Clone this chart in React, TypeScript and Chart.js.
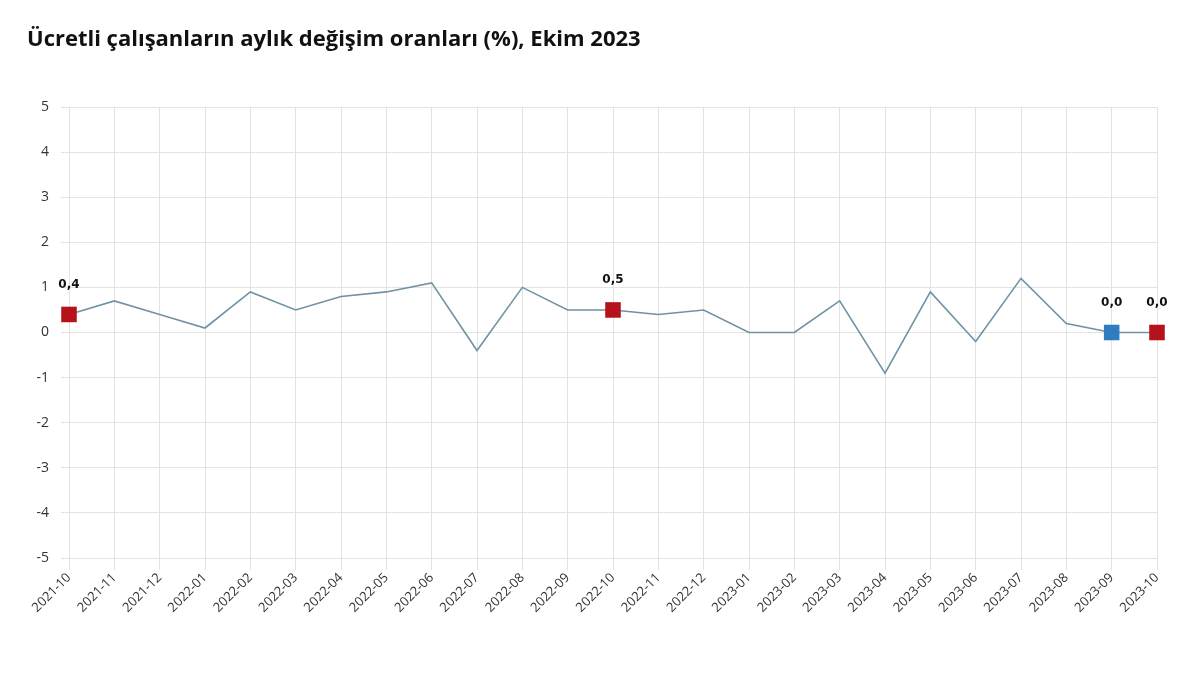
import { useEffect, useRef } from "react";
import { Chart, registerables, Plugin } from "chart.js";

Chart.register(...registerables);

const months = [
  "2021-10", "2021-11", "2021-12", "2022-01", "2022-02", "2022-03", "2022-04",
  "2022-05", "2022-06", "2022-07", "2022-08", "2022-09", "2022-10", "2022-11",
  "2022-12", "2023-01", "2023-02", "2023-03", "2023-04", "2023-05", "2023-06",
  "2023-07", "2023-08", "2023-09", "2023-10",
];

const monthlyChange = [
  0.4, 0.7, 0.4, 0.1, 0.9, 0.5, 0.8, 0.9, 1.1, -0.4, 1.0, 0.5, 0.5, 0.4,
  0.5, 0.0, 0.0, 0.7, -0.9, 0.9, -0.2, 1.2, 0.2, 0.0, 0.0,
];

// highlighted months (same month last years = red, previous month = blue)
const highlighted = ["2021-10", "2022-10", "2023-09", "2023-10"];
const highlightColors = ["#b5121b", "#b5121b", "#2f7dc1", "#b5121b"];

const yTicks = [-5, -4, -3, -2, -1, 0, 1, 2, 3, 4, 5];

const fmt = (v: number) => v.toFixed(1).replace(".", ",");

const valueLabels: Plugin<"line"> = {
  id: "valueLabels",
  afterDatasetsDraw(chart) {
    const { ctx } = chart;
    const meta = chart.getDatasetMeta(0);
    ctx.save();
    ctx.font = "bold 12px 'DejaVu Sans'";
    ctx.fillStyle = "#111";
    ctx.textAlign = "center";
    ctx.textBaseline = "bottom";
    highlighted.forEach((m) => {
      const i = months.indexOf(m);
      const pt = meta.data[i];
      ctx.fillText(fmt(monthlyChange[i]), pt.x, pt.y - 24);
    });
    ctx.restore();
  },
};

export default function App() {
  const canvasRef = useRef<HTMLCanvasElement>(null);

  useEffect(() => {
    document.body.style.margin = "0";
    if (!canvasRef.current) return;

    const radius = months.map((m) => (highlighted.includes(m) ? 11 : 0));
    const colors = months.map((m) => {
      const k = highlighted.indexOf(m);
      return k >= 0 ? highlightColors[k] : "#7092a5";
    });

    const chart = new Chart(canvasRef.current, {
      type: "line",
      data: {
        labels: months,
        datasets: [
          {
            data: monthlyChange,
            borderColor: "#7092a5",
            borderWidth: 1.6,
            pointStyle: "rect",
            pointRadius: radius,
            pointHoverRadius: radius,
            pointBackgroundColor: colors,
            pointBorderColor: colors,
            pointBorderWidth: 0,
            tension: 0,
          },
        ],
      },
      options: {
        responsive: false,
        animation: false,
        layout: { padding: { top: 107, right: 43, left: 0, bottom: 0 } },
        plugins: {
          legend: { display: false },
          tooltip: { enabled: false },
        },
        scales: {
          x: {
            offset: false,
            grid: { color: "#e3e3e3", tickLength: 12 },
            border: { color: "#e3e3e3" },
            ticks: {
              autoSkip: false,
              minRotation: 45,
              maxRotation: 45,
              color: "#333",
              padding: 0,
              font: { family: "'Open Sans'", size: 13 },
            },
            afterFit: (s) => {
              s.height = 120;
            },
          },
          y: {
            min: -5,
            max: 5,
            afterBuildTicks: (s) => {
              s.ticks = yTicks.map((v) => ({ value: v }));
            },
            grid: { color: "#e3e3e3", tickLength: 8 },
            border: { color: "#e3e3e3" },
            ticks: {
              color: "#333",
              padding: 12,
              font: { family: "'Open Sans'", size: 14 },
            },
            afterFit: (s) => {
              s.width = 69;
            },
          },
        },
      },
      plugins: [valueLabels],
    });

    return () => chart.destroy();
  }, []);

  return (
    <div style={{ position: "relative", width: 1200, height: 678, background: "#fff" }}>
      <div
        style={{
          position: "absolute",
          left: 27,
          top: 22,
          fontFamily: "'Open Sans', sans-serif",
          fontWeight: 700,
          fontSize: 22,
          color: "#111",
        }}
      >
        Ücretli çalışanların aylık değişim oranları (%), Ekim 2023
      </div>
      <canvas ref={canvasRef} width={1200} height={678} style={{ display: "block" }} />
    </div>
  );
}
